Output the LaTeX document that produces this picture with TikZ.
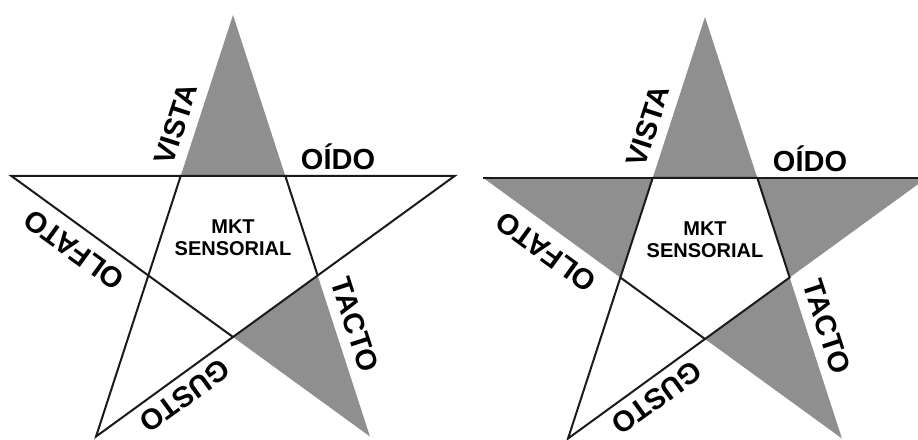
\documentclass[tikz,border=0pt]{standalone}
\usepackage{fontspec}
\setmainfont{Liberation Sans}
\definecolor{cgray}{HTML}{8F8F8F}
\definecolor{cink}{HTML}{1A1A1A}
\tikzset{
  every picture/.style={line width=2pt},
  rim/.style={draw=cink, line join=miter},
  fillpt/.style={fill=cgray},
  sense/.style={font=\bfseries\fontsize{29}{29}\selectfont, inner sep=0pt},
  hub/.style={font=\bfseries\fontsize{20}{22}\selectfont, align=center, inner sep=0pt},
}

\begin{document}
\begin{tikzpicture}[x=1pt, y=1pt]
  \useasboundingbox (0,0) rectangle (918,439);
  \clip (0,0) rectangle (918,439);
  % one star per sheet: centre, shaded points, plain points
  \foreach \cx/\cy/\lit/\plain in {233/191/{1,4}/{2,3,5}, 705/189/{1,2,4,5}/{3}} {
    \begin{scope}[shift={(\cx,\cy)}]
      \foreach \a [count=\k] in {90,162,234,306,18} {
        \coordinate (o\k) at (\a:233);
        \coordinate (i\k) at (\a+36:89);
      }
      \foreach \k in \lit {
        \pgfmathtruncatemacro\j{mod(\k+3,5)+1}
        \fill[fillpt] (o\k) -- (i\k) -- (i\j) -- cycle;
      }
      \foreach \k in \plain {
        \pgfmathtruncatemacro\j{mod(\k+3,5)+1}
        \draw[rim] (i\j) -- (o\k) -- (i\k);
      }
      \draw[rim] (o2) -- (o5);
      \draw[rim] (i1) -- (i2) -- (i3) -- (i4) -- (i5) -- cycle;
      % labels
      \node[sense, rotate=72] (vista) at (-57,124) {VISTA};
      \node[sense] (oido) at (105,91) {OÍDO};
      \node[sense, rotate=144] (olfato) at (-159,-2) {OLFATO};
      \node[sense, rotate=-72] (tacto) at (122,-77) {TACTO};
      \node[sense, rotate=216] (gusto) at (-48,-148) {GUSTO};
      \node[hub] (mkt) at (0,10) {MKT\\SENSORIAL};
    \end{scope}
  }
\end{tikzpicture}
\end{document}
